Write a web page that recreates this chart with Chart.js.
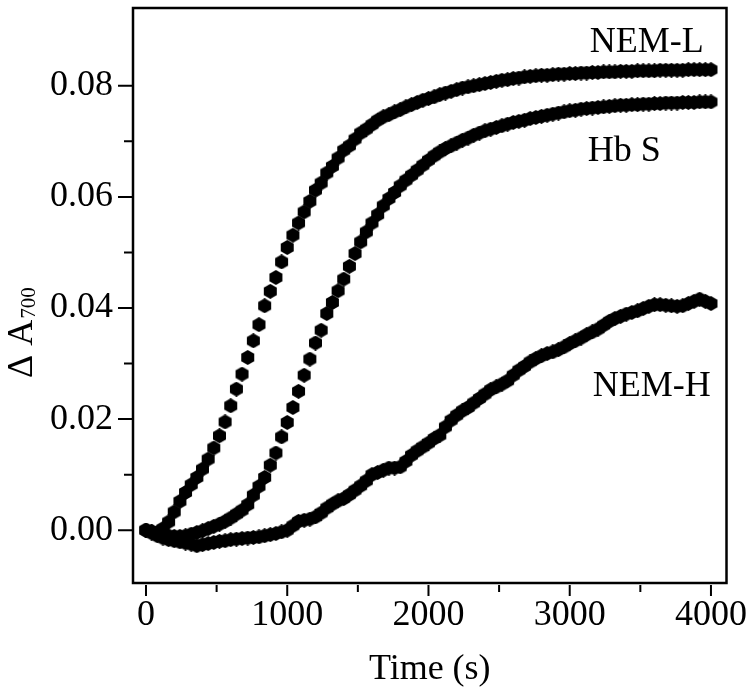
<!DOCTYPE html>
<html>
<head>
<meta charset="utf-8">
<script src="https://cdn.jsdelivr.net/npm/chart.js@4.4.0/dist/chart.umd.min.js"></script>
<style>
html, body { margin: 0; padding: 0; background: #fff; }
</style>
</head>
<body>
<canvas id="myChart" width="750" height="697"></canvas>
<script>
// time points (s)
const times = [
    0, 40, 80, 120, 160, 200, 240, 280, 320, 360,
    400, 440, 480, 520, 560, 600, 640, 680, 720, 760,
    800, 840, 880, 920, 960, 1000, 1040, 1080, 1120, 1160,
    1200, 1240, 1280, 1320, 1360, 1400, 1440, 1480, 1520, 1560,
    1600, 1640, 1680, 1720, 1760, 1800, 1840, 1880, 1920, 1960,
    2000, 2040, 2080, 2120, 2160, 2200, 2240, 2280, 2320, 2360,
    2400, 2440, 2480, 2520, 2560, 2600, 2640, 2680, 2720, 2760,
    2800, 2840, 2880, 2920, 2960, 3000, 3040, 3080, 3120, 3160,
    3200, 3240, 3280, 3320, 3360, 3400, 3440, 3480, 3520, 3560,
    3600, 3640, 3680, 3720, 3760, 3800, 3840, 3880, 3920, 3960,
    4000
];

const nemL = [
    0.0000, -0.0002, -0.0004, 0.0003, 0.0015, 0.0033, 0.0052, 0.0068, 0.0082, 0.0095,
    0.0110, 0.0128, 0.0148, 0.0170, 0.0195, 0.0224, 0.0254, 0.0281, 0.0311, 0.0341,
    0.0370, 0.0404, 0.0430, 0.0455, 0.0483, 0.0509, 0.0531, 0.0553, 0.0573, 0.0592,
    0.0612, 0.0625, 0.0643, 0.0655, 0.0670, 0.0684, 0.0692, 0.0704, 0.0715, 0.0722,
    0.0730, 0.0738, 0.0744, 0.0748, 0.0753, 0.0757, 0.0762, 0.0766, 0.0770, 0.0774,
    0.0777, 0.0780, 0.0784, 0.0787, 0.0790, 0.0793, 0.0796, 0.0798, 0.0800, 0.0802,
    0.0804, 0.0806, 0.0808, 0.0810, 0.0811, 0.0813, 0.0814, 0.0816, 0.0817, 0.0818,
    0.0819, 0.0819, 0.0820, 0.0821, 0.0821, 0.0822, 0.0822, 0.0823, 0.0823, 0.0824,
    0.0824, 0.0825, 0.0825, 0.0825, 0.0826, 0.0826, 0.0826, 0.0827, 0.0827, 0.0827,
    0.0827, 0.0828, 0.0828, 0.0828, 0.0828, 0.0828, 0.0829, 0.0829, 0.0829, 0.0829,
    0.0829
];

const hbS = [
    0.0000, -0.0003, -0.0006, -0.0008, -0.0010, -0.0011, -0.0011, -0.0010, -0.0007, -0.0004,
    -0.0001, 0.0003, 0.0007, 0.0011, 0.0016, 0.0022, 0.0029, 0.0036, 0.0046, 0.0063,
    0.0079, 0.0095, 0.0117, 0.0139, 0.0168, 0.0194, 0.0221, 0.0250, 0.0279, 0.0308,
    0.0337, 0.0360, 0.0390, 0.0410, 0.0431, 0.0452, 0.0475, 0.0498, 0.0519, 0.0537,
    0.0553, 0.0568, 0.0584, 0.0597, 0.0608, 0.0620, 0.0630, 0.0639, 0.0648, 0.0657,
    0.0666, 0.0674, 0.0681, 0.0687, 0.0692, 0.0697, 0.0702, 0.0706, 0.0711, 0.0715,
    0.0719, 0.0722, 0.0725, 0.0728, 0.0731, 0.0734, 0.0736, 0.0738, 0.0741, 0.0743,
    0.0745, 0.0747, 0.0749, 0.0751, 0.0753, 0.0755, 0.0756, 0.0758, 0.0759, 0.0760,
    0.0761, 0.0762, 0.0763, 0.0764, 0.0765, 0.0765, 0.0766, 0.0766, 0.0767, 0.0767,
    0.0768, 0.0768, 0.0769, 0.0769, 0.0769, 0.0770, 0.0770, 0.0770, 0.0771, 0.0771,
    0.0771
];

const nemH = [
    0.0000, -0.0005, -0.0010, -0.0014, -0.0017, -0.0019, -0.0021, -0.0023, -0.0025, -0.0028,
    -0.0026, -0.0024, -0.0022, -0.0020, -0.0019, -0.0017, -0.0016, -0.0015, -0.0014, -0.0013,
    -0.0012, -0.0010, -0.0008, -0.0006, -0.0003, 0.0000, 0.0008, 0.0016, 0.0018, 0.0020,
    0.0024, 0.0031, 0.0040, 0.0047, 0.0053, 0.0057, 0.0064, 0.0072, 0.0080, 0.0089,
    0.0100, 0.0104, 0.0108, 0.0112, 0.0112, 0.0114, 0.0124, 0.0135, 0.0143, 0.0150,
    0.0157, 0.0165, 0.0171, 0.0186, 0.0198, 0.0207, 0.0215, 0.0221, 0.0229, 0.0237,
    0.0245, 0.0253, 0.0258, 0.0263, 0.0269, 0.0279, 0.0288, 0.0295, 0.0303, 0.0309,
    0.0314, 0.0318, 0.0321, 0.0325, 0.0330, 0.0336, 0.0341, 0.0346, 0.0352, 0.0357,
    0.0362, 0.0369, 0.0376, 0.0381, 0.0385, 0.0389, 0.0392, 0.0395, 0.0399, 0.0403,
    0.0406, 0.0406, 0.0405, 0.0404, 0.0403, 0.0404, 0.0408, 0.0412, 0.0416, 0.0412,
    0.0408
];

const xMajor = [0, 1000, 2000, 3000, 4000];
const xMinor = [500, 1500, 2500, 3500];
const yMajor = [0, 0.02, 0.04, 0.06, 0.08];
const yMinor = [0.01, 0.03, 0.05, 0.07];

const curveNames = ['NEM-L', 'Hb S', 'NEM-H'];
// where each name sits, in data units (time, value of baseline)
const nameAt = [[3142, 0.0861], [3128, 0.0664], [3163, 0.0241]];

const SERIF = "'Liberation Serif', 'Times New Roman', serif";

// hexagon marker
function makeHex(size) {
    const c = document.createElement('canvas');
    c.width = size;
    c.height = size;
    const g = c.getContext('2d');
    const r = size / 2;
    g.beginPath();
    for (let k = 0; k < 6; k++) {
        const a = -Math.PI / 2 + k * Math.PI / 3;
        const px = r + r * Math.cos(a);
        const py = r + r * Math.sin(a);
        if (k === 0) g.moveTo(px, py); else g.lineTo(px, py);
    }
    g.closePath();
    g.fillStyle = '#000';
    g.fill();
    return c;
}
const hex = makeHex(15);

function toPoints(vals) {
    return times.map((t, i) => ({ x: t, y: vals[i] }));
}

// chart.js reserves room for half the end labels, we don't want that
function noPad(s) {
    s.paddingTop = 0;
    s.paddingBottom = 0;
    s.paddingLeft = 0;
    s.paddingRight = 0;
}

const decorPlugin = {
    id: 'decor',
    afterDraw(chart) {
        const ctx = chart.ctx;
        const a = chart.chartArea;
        const xs = chart.scales.x;
        const ys = chart.scales.y;
        ctx.save();
        ctx.strokeStyle = '#000';

        // ticks
        ctx.lineWidth = 2;
        ctx.beginPath();
        yMajor.forEach(v => {
            const y = ys.getPixelForValue(v);
            ctx.moveTo(a.left - 15, y); ctx.lineTo(a.left, y);
        });
        yMinor.forEach(v => {
            const y = ys.getPixelForValue(v);
            ctx.moveTo(a.left - 9, y); ctx.lineTo(a.left, y);
        });
        xMajor.forEach(v => {
            const x = xs.getPixelForValue(v);
            ctx.moveTo(x, a.bottom + 2); ctx.lineTo(x, a.bottom + 13);
        });
        xMinor.forEach(v => {
            const x = xs.getPixelForValue(v);
            ctx.moveTo(x, a.bottom + 2); ctx.lineTo(x, a.bottom + 9);
        });
        ctx.stroke();

        // frame
        ctx.lineWidth = 2.5;
        ctx.strokeRect(a.left, a.top, a.right - a.left, a.bottom - a.top);

        ctx.fillStyle = '#000';
        ctx.textBaseline = 'alphabetic';

        // x title
        ctx.font = '36px ' + SERIF;
        ctx.textAlign = 'center';
        ctx.fillText('Time (s)', (a.left + a.right) / 2, 679);

        // y title with subscript
        ctx.save();
        ctx.translate(32, 378);
        ctx.rotate(-Math.PI / 2);
        ctx.textAlign = 'left';
        ctx.font = '36px ' + SERIF;
        ctx.fillText('\u0394 A', 0, 0);
        const w = ctx.measureText('\u0394 A').width;
        ctx.font = '21px ' + SERIF;
        ctx.fillText('700', w + 1, 3);
        ctx.restore();

        // curve names
        ctx.font = '36px ' + SERIF;
        ctx.textAlign = 'left';
        curveNames.forEach((name, i) => {
            ctx.fillText(name, xs.getPixelForValue(nameAt[i][0]), ys.getPixelForValue(nameAt[i][1]));
        });
        ctx.restore();
    }
};

const ds = (label, vals) => ({
    label: label,
    data: toPoints(vals),
    showLine: false,
    pointStyle: hex,
    pointRadius: 7,
    backgroundColor: '#000',
    borderColor: '#000'
});

new Chart(document.getElementById('myChart'), {
    type: 'scatter',
    data: {
        datasets: [ds('NEM-L', nemL), ds('Hb S', hbS), ds('NEM-H', nemH)]
    },
    options: {
        responsive: false,
        animation: false,
        devicePixelRatio: 1,
        layout: { padding: { top: 4.5, right: 23.5, left: 0, bottom: 0 } },
        plugins: {
            legend: { display: false },
            tooltip: { enabled: false }
        },
        scales: {
            x: {
                type: 'linear',
                min: -92,
                max: 4110,
                afterBuildTicks: s => { s.ticks = xMajor.map(v => ({ value: v })); },
                afterFit: s => { s.height = 114; noPad(s); },
                grid: { display: false, drawTicks: false },
                border: { display: false },
                ticks: {
                    color: '#000',
                    font: { family: SERIF, size: 36 },
                    padding: 11,
                    maxRotation: 0,
                    autoSkip: false,
                    callback: v => String(v)
                }
            },
            y: {
                type: 'linear',
                min: -0.0095,
                max: 0.0940,
                afterBuildTicks: s => { s.ticks = yMajor.map(v => ({ value: v })); },
                afterFit: s => { s.width = 133; noPad(s); },
                grid: { display: false, drawTicks: false },
                border: { display: false },
                ticks: {
                    color: '#000',
                    font: { family: SERIF, size: 36 },
                    padding: 20,
                    autoSkip: false,
                    callback: v => v.toFixed(2)
                }
            }
        }
    },
    plugins: [decorPlugin]
});
</script>
</body>
</html>
